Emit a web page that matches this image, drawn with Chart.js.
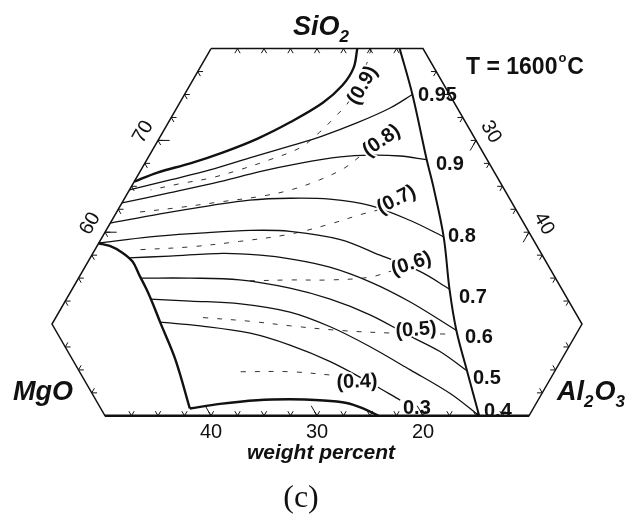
<!DOCTYPE html>
<html>
<head>
<meta charset="utf-8">
<script src="https://cdn.jsdelivr.net/npm/chart.js@4.4.1/dist/chart.umd.min.js"></script>
<style>
  html, body { margin: 0; padding: 0; background: #fff; }
</style>
</head>
<body>
<canvas id="myChart" width="636" height="519"></canvas>
<script>
/* globals Chart:false */
(() => {
  "use strict";

  // compositions are [SiO2, Al2O3] in wt% (MgO = 100 - SiO2 - Al2O3)
  const frame = [[80, 0], [80, 20], [50, 50], [40, 50], [40, 10], [50, 0], [80, 0]];
  const baseEdge = [[40, 10], [40, 50]];

  const boundaryTop = [[80.0, 13.8], [77.9, 14.5], [76.0, 14.4], [74.1, 13.5], [72.0, 11.5], [70.2, 9.3], [68.7, 6.8], [67.5, 4.3], [66.5, 1.7], [65.5, 0]];
  const boundaryRight = [[80.0, 17.8], [75.0, 21.5], [67.9, 26.4], [65.1, 28.4], [59.5, 32.2], [53.8, 35.6], [49.3, 38.5], [44.9, 41.7], [40.0, 45.3]];
  const boundaryLeft = [[58.8, 0], [58.5, 1.2], [57.8, 2.7], [56.8, 4.2], [55.3, 5.6], [53.7, 7.1], [52.1, 8.5], [50.2, 10.1], [46.1, 13.6], [40.8, 17.6]];
  const boundaryBottom = [[40.8, 17.6], [41.3, 20.2], [41.7, 23.5], [41.8, 26.5], [41.7, 29.4], [41.4, 32.1], [40.7, 34.2], [40.0, 35.8]];

  // solid iso-activity lines of SiO2
  const a095 = [[64.6, 0], [65.7, 3.3], [66.8, 6.5], [68.1, 9.6], [69.4, 12.8], [70.5, 15.3], [71.9, 17.8], [73.5, 20.1], [75.0, 21.5]];
  const a090 = [[63.2, 0], [64.3, 4.0], [65.5, 8.1], [66.6, 11.3], [67.5, 14.6], [68.2, 18.1], [68.4, 20.8], [68.3, 23.7], [67.9, 26.4]];
  const a080 = [[61.0, 0], [62.0, 4.2], [62.9, 8.5], [63.5, 11.9], [63.7, 15.6], [63.6, 19.4], [62.9, 23.6], [61.3, 28.1], [59.5, 32.2]];
  const a070 = [[58.8, 0], [59.5, 4.5], [59.9, 9.0], [60.2, 13.6], [60.1, 17.4], [59.2, 22.6], [57.5, 27.2], [55.7, 31.9], [53.8, 35.6]];
  const a060 = [[57.2, 3.6], [57.4, 7.4], [57.7, 12.3], [57.5, 15.9], [57.1, 18.9], [56.2, 23.1], [54.6, 27.7], [52.4, 32.6], [49.3, 38.5]];
  const a050 = [[55.0, 5.9], [55.0, 10.5], [54.8, 15.3], [53.9, 20.5], [52.7, 24.9], [51.0, 29.5], [48.7, 34.4], [47.0, 38.1], [44.9, 41.7]];
  const a040 = [[52.7, 7.9], [52.5, 11.8], [52.2, 16.7], [51.3, 21.8], [49.7, 26.4], [47.5, 31.3], [45.0, 36.3], [42.4, 41.4], [40.0, 45.3]];
  const a030 = [[50.2, 10.1], [49.8, 14.1], [49.0, 19.2], [47.7, 23.6], [45.9, 28.3], [43.6, 33.2], [41.7, 37.0]];
  const solidLevels = ["0.95", "0.9", "0.8", "0.7", "0.6", "0.5", "0.4", "0.3"];

  // dashed lines, bracketed values
  const d090 = [[80.0, 15.1], [78.4, 15.5], [74.4, 15.9], [72.5, 15.4], [70.9, 14.8], [69.2, 13.8], [67.9, 11.6], [66.8, 9.3], [65.9, 7.0], [65.3, 4.5], [64.6, 2.0]];
  const d080 = [[62.2, 2.2], [62.7, 5.7], [63.3, 9.2], [63.9, 12.7], [64.6, 15.2], [65.7, 17.4], [67.0, 19.1], [68.4, 20.0], [69.9, 21.0]];
  const d070 = [[58.1, 4.3], [58.4, 8.8], [59.0, 13.2], [59.8, 17.6], [60.9, 20.8], [61.9, 23.1], [62.4, 24.5]];
  const d060 = [[54.7, 16.3], [54.8, 20.1], [54.8, 23.8], [55.1, 27.4], [55.9, 29.4]];
  const d050 = [[50.7, 13.9], [50.3, 18.5], [49.8, 22.6], [49.3, 27.5], [49.0, 32.9], [48.9, 38.1]];
  const d040 = [[44.8, 20.4], [44.8, 25.1], [44.4, 29.5]];
  const dashedLevels = ["(0.9)", "(0.8)", "(0.7)", "(0.6)", "(0.5)", "(0.4)"];

  // axis tick labels
  const sio2Ticks = [60, 70];
  const al2o3Ticks = [30, 40];
  const mgoTicks = [40, 30, 20];

  const SQ3 = Math.sqrt(3);
  const toXY = ([si, al]) => ({ x: al + si / 2, y: (si * SQ3) / 2 });

  const line = (pts, extra) =>
    Object.assign(
      {
        data: pts.map(toXY),
        showLine: true,
        pointRadius: 0,
        borderColor: "#111",
        backgroundColor: "#111",
        borderWidth: 1.3,
        tension: 0.35,
        fill: false,
      },
      extra
    );

  const datasets = [
    line(frame, { tension: 0, borderWidth: 1.5 }),
    line(baseEdge, { tension: 0, borderWidth: 2.4 }),
    line(boundaryTop, { borderWidth: 2.4 }),
    line(boundaryRight, { borderWidth: 2 }),
    line(boundaryLeft, { borderWidth: 2.4 }),
    line(boundaryBottom, { borderWidth: 2.4 }),
  ];
  [a095, a090, a080, a070, a060, a050, a040, a030].forEach((c) => datasets.push(line(c)));
  [d090, d080, d070, d060, d050, d040].forEach((c) =>
    datasets.push(line(c, { borderWidth: 1, borderDash: [5, 9], borderColor: "#333" }))
  );

  // label layout (pixels)
  const solidLabelPos = [[418, 101], [436, 170], [448, 242], [459, 303], [465, 343], [473, 384], [484, 417], [403, 414]];
  const dashedLabelPos = [[362, 85, -60], [381, 140, -35], [396, 199, -27], [411, 263, -18], [416, 329, -4], [357, 381, -2]];

  const edges = [
    { fixed: "si", val: 40, sign: 1, along: "mg", third: "al", from: 10, to: 50, major: mgoTicks, n: [0, 1], rot: 0 },
    { fixed: "al", val: 0, sign: 1, along: "si", third: "mg", from: 50, to: 80, major: sio2Ticks, n: [-0.866, -0.5], rot: -60 },
    { fixed: "mg", val: 0, sign: 1, along: "al", third: "si", from: 20, to: 50, major: al2o3Ticks, n: [0.866, -0.5], rot: 60 },
    { fixed: "si", val: 80, sign: -1, along: "al", third: "mg", from: 0, to: 20 },
    { fixed: "mg", val: 50, sign: -1, along: "si", third: "al", from: 40, to: 50 },
    { fixed: "al", val: 50, sign: -1, along: "si", third: "mg", from: 40, to: 50 },
  ];

  const SANS = "'Liberation Sans', Arial, sans-serif";

  const chem = (ctx, parts, x, y, size) => {
    let cx = x;
    parts.forEach(([s, sub]) => {
      ctx.font = `italic bold ${sub ? Math.round(size * 0.62) : size}px ${SANS}`;
      ctx.fillText(s, cx, sub ? y + size * 0.27 : y);
      cx += ctx.measureText(s).width + (sub ? 1 : 0);
    });
    return cx - x;
  };

  const annotate = {
    id: "ternaryText",
    afterDatasetsDraw(chart) {
      const { ctx } = chart;
      const xs = chart.scales.x;
      const ys = chart.scales.y;
      const P = (c) => {
        const p = toXY([c.si, c.al]);
        return [xs.getPixelForValue(p.x), ys.getPixelForValue(p.y)];
      };
      const comp = (e, t) => {
        const c = {};
        c[e.fixed] = e.val;
        c[e.along] = t;
        c[e.third] = 100 - e.val - t;
        return c;
      };
      const arm = (e, c, o, d) => {
        const c2 = Object.assign({}, c);
        c2[e.fixed] += e.sign * d;
        c2[o] -= e.sign * d;
        const a = P(c);
        const b = P(c2);
        ctx.beginPath();
        ctx.moveTo(a[0], a[1]);
        ctx.lineTo(b[0], b[1]);
        ctx.stroke();
      };

      ctx.save();
      ctx.strokeStyle = "#111";
      ctx.lineWidth = 1;
      edges.forEach((e) => {
        for (let t = e.from + 2.5; t < e.to - 0.01; t += 2.5) {
          const c = comp(e, t);
          arm(e, c, e.along, 0.5);
          arm(e, c, e.third, 0.5);
        }
        if (e.major) {
          ctx.font = `20px ${SANS}`;
          ctx.fillStyle = "#111";
          ctx.textAlign = "center";
          ctx.textBaseline = "middle";
          e.major.forEach((v) => {
            const c = comp(e, v);
            arm(e, c, e.third, 1.1);
            const [px, py] = P(c);
            ctx.save();
            ctx.translate(px + e.n[0] * 17, py + e.n[1] * 17);
            ctx.rotate((e.rot * Math.PI) / 180);
            ctx.fillText(String(v), 0, 0);
            ctx.restore();
          });
        }
      });

      // iso-activity labels
      ctx.fillStyle = "#111";
      ctx.font = `bold 20px ${SANS}`;
      ctx.textAlign = "left";
      ctx.textBaseline = "alphabetic";
      solidLevels.forEach((s, i) => ctx.fillText(s, solidLabelPos[i][0], solidLabelPos[i][1]));

      ctx.textAlign = "center";
      ctx.textBaseline = "middle";
      dashedLevels.forEach((s, i) => {
        const [x, y, r] = dashedLabelPos[i];
        ctx.save();
        ctx.translate(x, y);
        ctx.rotate((r * Math.PI) / 180);
        ctx.strokeStyle = "#fff";
        ctx.lineWidth = 4;
        ctx.lineJoin = "round";
        ctx.strokeText(s, 0, 1);
        ctx.fillText(s, 0, 1);
        ctx.restore();
      });

      // component names
      ctx.textAlign = "left";
      ctx.textBaseline = "alphabetic";
      chem(ctx, [["SiO", false], ["2", true]], 293, 35, 27);
      chem(ctx, [["MgO", false]], 13, 400, 27);
      chem(ctx, [["Al", false], ["2", true], ["O", false], ["3", true]], 557, 400, 27);

      ctx.font = `bold 23px ${SANS}`;
      ctx.fillText("T = 1600", 466, 74);
      let tx = 466 + ctx.measureText("T = 1600").width + 1;
      ctx.font = `bold 13px ${SANS}`;
      ctx.fillText("o", tx, 62);
      tx += ctx.measureText("o").width + 1;
      ctx.font = `bold 23px ${SANS}`;
      ctx.fillText("C", tx, 74);

      ctx.textAlign = "center";
      ctx.font = `italic bold 21px ${SANS}`;
      ctx.fillText("weight percent", 321, 459);
      ctx.font = "32px 'Liberation Serif', 'Times New Roman', serif";
      ctx.fillText("(c)", 301, 507);
      ctx.restore();
    },
  };

  const ctx = document.getElementById("myChart");
  // eslint-disable-next-line no-unused-vars
  const myChart = new Chart(ctx, {
    type: "scatter",
    data: { datasets },
    options: {
      responsive: false,
      animation: false,
      events: [],
      layout: { padding: 0 },
      plugins: {
        legend: { display: false },
        tooltip: { enabled: false },
      },
      scales: {
        x: { type: "linear", display: false, min: 20.094, max: 80.094 },
        y: { type: "linear", display: false, min: 24.906, max: 73.868 },
      },
    },
    plugins: [annotate],
  });
})();
</script>
</body>
</html>
